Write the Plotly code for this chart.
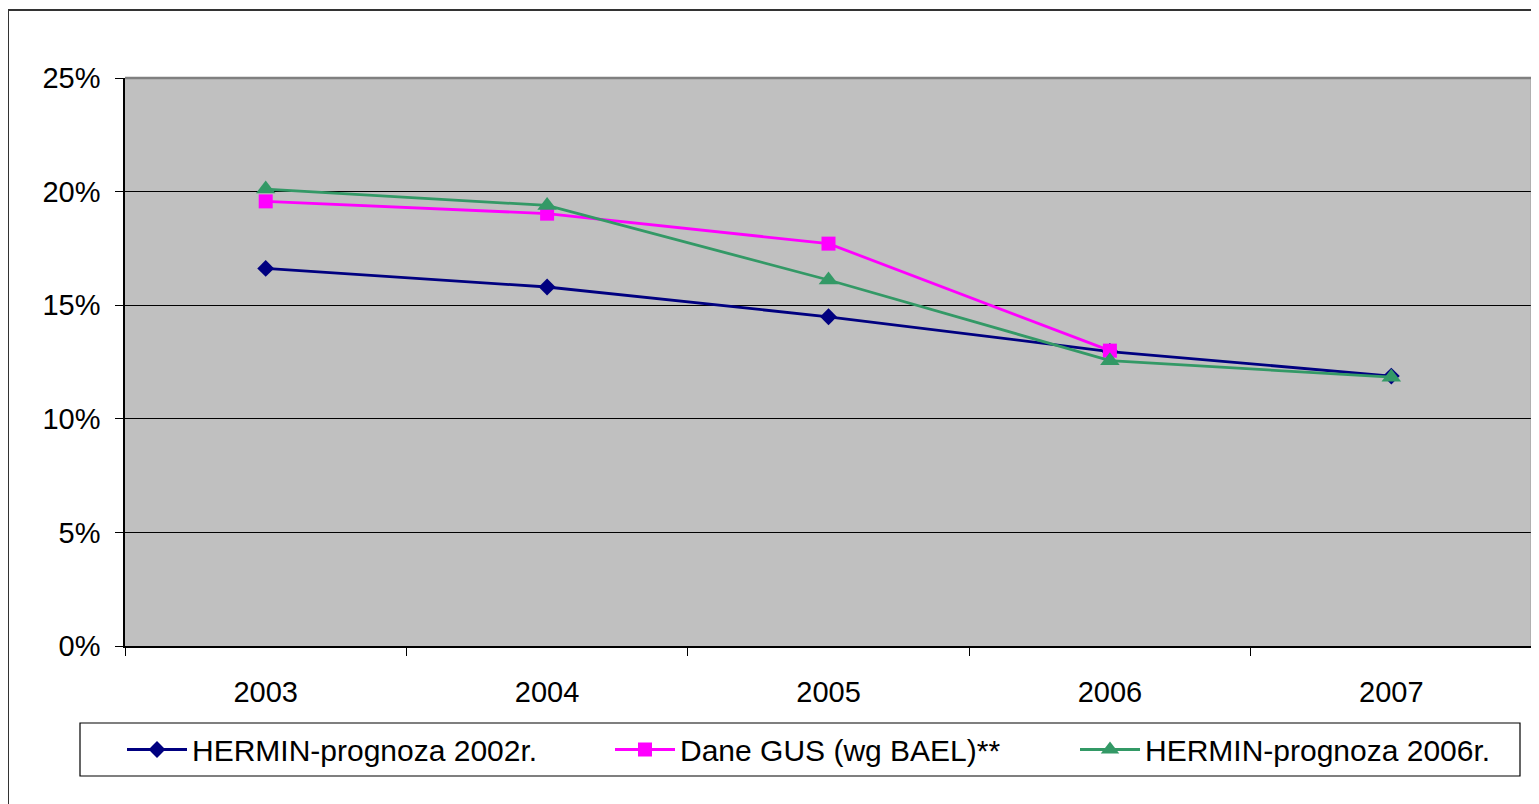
import plotly.graph_objects as go

years = ["2003", "2004", "2005", "2006", "2007"]
hermin_2002 = [0.1662, 0.1580, 0.1449, 0.1296, 0.1188]
gus_bael = [0.1957, 0.1903, 0.1771, 0.1300, None]
hermin_2006 = [0.2011, 0.1939, 0.1611, 0.1256, 0.1183]
y_ticks = [0, 0.05, 0.10, 0.15, 0.20, 0.25]

names = ["HERMIN-prognoza 2002r.", "Dane GUS (wg BAEL)**", "HERMIN-prognoza 2006r."]
colors = ["#000080", "#FF00FF", "#339966"]
symbols = ["diamond", "square", "triangle-up"]
msizes = [13, 14, 17]
series = [hermin_2002, gus_bael, hermin_2006]
legend_ids = ["legend", "legend2", "legend3"]

OFF = 8  # page offset of the figure (body margin)
W, H = 1539 - OFF, 804 - OFF
L, R, T, B = 125 - OFF, 1532 - OFF, 78 - OFF, 646 - OFF
pw, ph = R - L, B - T


def px(x):
    # page x -> paper x
    return (x - OFF - L) / pw


def py(y):
    # page y -> paper y
    return (B - (y - OFF)) / ph


fig = go.Figure()
for s, n, c, sym, ms, lg in zip(series, names, colors, symbols, msizes, legend_ids):
    fig.add_trace(go.Scatter(
        x=years, y=s, name=n, mode="lines+markers",
        line=dict(color=c, width=2.8),
        marker=dict(symbol=sym, size=ms, color=c),
        legend=lg, connectgaps=False,
    ))

font = dict(family="Liberation Sans, Arial, sans-serif", size=29, color="black")
legfont = dict(family="Liberation Sans, Arial, sans-serif", size=30, color="black")
leg_x = [122, 610, 1075]
legcommon = dict(font=legfont, bgcolor="rgba(0,0,0,0)", borderwidth=0,
                 orientation="h", xanchor="left", yanchor="middle",
                 itemwidth=60, y=py(749.5))

fig.update_layout(
    width=W, height=H,
    margin=dict(l=L, r=W - R, t=T, b=H - B, pad=0),
    paper_bgcolor="white", plot_bgcolor="#C0C0C0",
    font=font,
    showlegend=True,
    legend=dict(x=px(leg_x[0]), **legcommon),
    legend2=dict(x=px(leg_x[1]), **legcommon),
    legend3=dict(x=px(leg_x[2]), **legcommon),
    xaxis=dict(type="category", range=[-0.5, 4.5], tickson="boundaries",
               ticks="outside", ticklen=8, tickcolor="black", tickwidth=1,
               showline=True, linecolor="black", linewidth=1.5,
               showgrid=False, zeroline=False, tickfont=font,
               ticklabelstandoff=19),
    yaxis=dict(range=[0, 0.25], tickvals=y_ticks, tickformat=".0%",
               ticks="outside", ticklen=8, tickcolor="black", tickwidth=1,
               showline=True, linecolor="black", linewidth=1.5,
               showgrid=True, gridcolor="black", gridwidth=1,
               zeroline=False, tickfont=font, ticklabelstandoff=9),
    shapes=[
        # plot area top / right border
        dict(type="line", xref="paper", yref="paper", x0=0, x1=1, y0=1, y1=1,
             line=dict(color="#808080", width=2.5)),
        dict(type="line", xref="paper", yref="paper", x0=1, x1=1, y0=0, y1=1,
             line=dict(color="#808080", width=2.5)),
        # legend box
        dict(type="rect", xref="paper", yref="paper",
             x0=px(80), x1=px(1520), y0=py(776), y1=py(723),
             line=dict(color="black", width=1.2), fillcolor="rgba(0,0,0,0)"),
        # outer chart frame
        dict(type="rect", xref="paper", yref="paper",
             x0=px(8), x1=px(1560), y0=py(830), y1=py(10),
             line=dict(color="#333333", width=2), fillcolor="rgba(0,0,0,0)"),
    ],
)

fig.write_html("out.html")
